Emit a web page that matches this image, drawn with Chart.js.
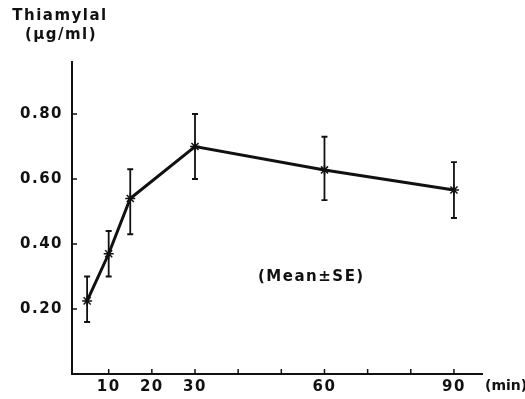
<!DOCTYPE html>
<html>
<head>
<meta charset="utf-8">
<script src="https://cdn.jsdelivr.net/npm/chart.js@4.4.1/dist/chart.umd.min.js"></script>
<style>
  html, body { margin: 0; padding: 0; background: #fff; }
  #wrap { width: 525px; height: 399px; }
</style>
</head>
<body>
<div id="wrap"><canvas id="thiamylalChart" width="525" height="399"></canvas></div>
<script>
// sampling times (min) and thiamylal plasma level (mean, +/- SE)
var minutes = [5, 10, 15, 30, 60, 90];
var meanLevel = [0.225, 0.37, 0.54, 0.70, 0.628, 0.566];
var errHigh = [0.30, 0.44, 0.63, 0.80, 0.73, 0.652];
var errLow = [0.16, 0.30, 0.43, 0.60, 0.535, 0.48];

var yTicks = [0.20, 0.40, 0.60, 0.80];
var xTicks = [10, 20, 30, 40, 50, 60, 70, 80, 90];
var xLabelled = [10, 20, 30, 60, 90];

var ink = '#111';
var labelFont = 'bold 15px "DejaVu Sans", sans-serif';

// widen the lettering a little, like the typed original
var spacing = {
    id: 'spacing',
    beforeDraw: function(chart) {
        chart.ctx.letterSpacing = '1.5px';
    }
};

// error bars with caps, plus inward tick marks and loose text
var decorations = {
    id: 'decorations',
    afterDatasetsDraw: function(chart) {
        var ctx = chart.ctx;
        var xs = chart.scales.x;
        var ys = chart.scales.y;
        ctx.save();
        ctx.strokeStyle = ink;
        ctx.lineWidth = 1.8;
        for (let i = 0; i < minutes.length; i++) {
            var px = xs.getPixelForValue(minutes[i]);
            var top = ys.getPixelForValue(errHigh[i]);
            var bot = ys.getPixelForValue(errLow[i]);
            ctx.beginPath();
            ctx.moveTo(px, top); ctx.lineTo(px, bot);
            ctx.moveTo(px - 3, top); ctx.lineTo(px + 3, top);
            ctx.moveTo(px - 3, bot); ctx.lineTo(px + 3, bot);
            ctx.stroke();
        }
        // inward ticks
        ctx.lineWidth = 1.5;
        ctx.beginPath();
        yTicks.forEach(function(v) {
            var py = ys.getPixelForValue(v);
            ctx.moveTo(xs.left, py); ctx.lineTo(xs.left + 5, py);
        });
        xTicks.forEach(function(v) {
            var px = xs.getPixelForValue(v);
            ctx.moveTo(px, ys.bottom); ctx.lineTo(px, ys.bottom - 5);
        });
        ctx.stroke();

        ctx.fillStyle = ink;
        ctx.font = labelFont;
        ctx.textBaseline = 'middle';
        ctx.textAlign = 'center';
        ctx.letterSpacing = '1.5px';
        ctx.fillText('Thiamylal', 60, 16);
        ctx.fillText('(\u03bcg/ml)', 61, 35);
        ctx.textAlign = 'left';
        ctx.fillText('(Mean\u00b1SE)', 258, 277);
        ctx.letterSpacing = '0px';
        ctx.font = 'bold 14px "DejaVu Sans", sans-serif';
        ctx.fillText('(min)', 485, 386);
        ctx.restore();
    }
};

var ctx = document.getElementById('thiamylalChart').getContext('2d');
var myChart = new Chart(ctx, {
    type: 'line',
    data: {
        datasets: [{
            data: minutes.map(function(m, i) { return { x: m, y: meanLevel[i] }; }),
            borderColor: ink,
            backgroundColor: ink,
            borderWidth: 3,
            pointStyle: 'star',
            pointRadius: 5,
            pointBorderWidth: 1.5,
            tension: 0
        }]
    },
    plugins: [spacing, decorations],
    options: {
        responsive: false,
        animation: false,
        layout: { padding: { top: 62, right: 43, left: 0, bottom: 0 } },
        plugins: {
            legend: { display: false },
            tooltip: { enabled: false }
        },
        scales: {
            x: {
                type: 'linear',
                min: 1.5,
                max: 96.5,
                afterBuildTicks: function(axis) {
                    axis.ticks = xTicks.map(function(v) { return { value: v }; });
                },
                afterFit: function(axis) { axis.height = 25; },
                grid: { display: false, drawTicks: false },
                border: { display: true, color: ink, width: 2 },
                ticks: {
                    color: ink,
                    font: { family: '"DejaVu Sans", sans-serif', size: 15, weight: 'bold' },
                    padding: 4,
                    maxRotation: 0,
                    autoSkip: false,
                    callback: function(v) { return xLabelled.indexOf(v) >= 0 ? String(v) : ''; }
                }
            },
            y: {
                min: 0,
                max: 0.96,
                afterBuildTicks: function(axis) {
                    axis.ticks = yTicks.map(function(v) { return { value: v }; });
                },
                afterFit: function(axis) { axis.width = 72; },
                grid: { display: false, drawTicks: false },
                border: { display: true, color: ink, width: 2 },
                ticks: {
                    color: ink,
                    font: { family: '"DejaVu Sans", sans-serif', size: 15, weight: 'bold' },
                    padding: 9,
                    callback: function(v) { return v.toFixed(2); }
                }
            }
        }
    }
});
</script>
</body>
</html>
